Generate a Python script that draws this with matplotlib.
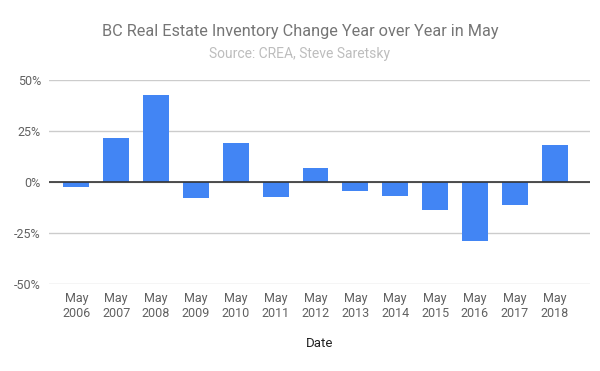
import matplotlib
matplotlib.use("Agg")
import matplotlib.pyplot as plt
from matplotlib.ticker import FuncFormatter

plt.rcParams['font.family'] = ['Roboto', 'DejaVu Sans']

years = ["2006", "2007", "2008", "2009", "2010", "2011", "2012",
         "2013", "2014", "2015", "2016", "2017", "2018"]
labels = ["May\n" + y for y in years]
change = [-2.6, 21.8, 42.5, -8.0, 19.4, -7.1, 7.1,
          -4.3, -7.0, -13.9, -29.1, -11.4, 18.1]

fig = plt.figure(figsize=(6, 3.71), dpi=100)
ax = fig.add_axes([0.082, 0.2345, 0.901, 0.5495])

x = list(range(len(years)))
ax.bar(x, change, width=0.65, color="#4285F4", zorder=3)

ax.set_ylim(-50, 50)
ax.set_xlim(-0.68, 12.88)
ax.set_yticks([-50, -25, 0, 25, 50])
ax.yaxis.set_major_formatter(FuncFormatter(lambda v, p: f"{int(v)}%"))
ax.grid(axis="y", color="#cccccc", linewidth=1, zorder=0)
ax.axhline(0, color="#333333", linewidth=1.2, zorder=4)

ax.set_xticks(x)
ax.set_xticklabels(labels)
ax.tick_params(axis="both", length=0, labelsize=9, labelcolor="#616161")
ax.tick_params(axis="x", pad=6)
ax.tick_params(axis="y", pad=6)
for s in ax.spines.values():
    s.set_visible(False)

ax.set_xlabel("Date", fontsize=9.5, color="#222222", labelpad=12)

fig.text(0.5, 0.914, "BC Real Estate Inventory Change Year over Year in May",
         ha="center", va="center", fontsize=11.7, color="#757575")
fig.text(0.5, 0.855, "Source: CREA, Steve Saretsky",
         ha="center", va="center", fontsize=10, color="#bdbdbd")

fig.savefig("out.png", dpi=100)
